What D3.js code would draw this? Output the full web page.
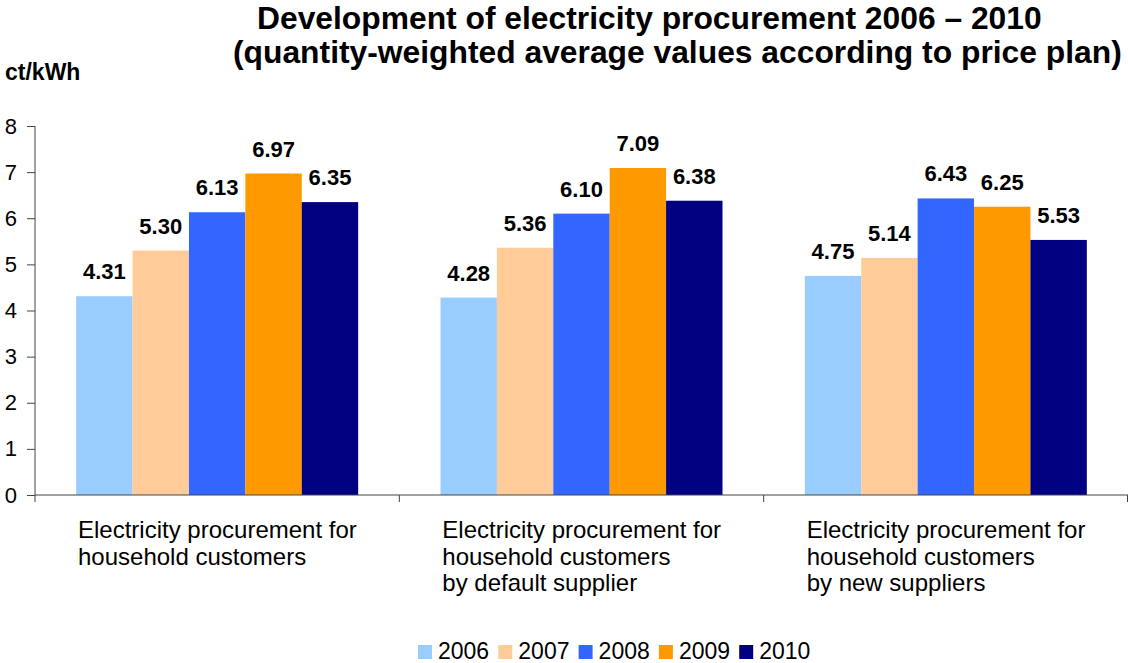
<!DOCTYPE html>
<html>
<head>
<meta charset="utf-8">
<script src="https://cdn.jsdelivr.net/npm/d3@7"></script>
<style>
  html, body { margin: 0; padding: 0; background: #fff; }
  svg { display: block; font-family: "Liberation Sans", Arial, sans-serif; }
</style>
</head>
<body>
<svg id="chart" width="1128" height="663"></svg>
<script>
// Categories (multi-line labels) and yearly series in ct/kWh
const categories = [
  ["Electricity procurement for", "household customers"],
  ["Electricity procurement for", "household customers", "by default supplier"],
  ["Electricity procurement for", "household customers", "by new suppliers"]
];
const years = ["2006", "2007", "2008", "2009", "2010"];
const values2006 = [4.31, 4.28, 4.75];
const values2007 = [5.30, 5.36, 5.14];
const values2008 = [6.13, 6.10, 6.43];
const values2009 = [6.97, 7.09, 6.25];
const values2010 = [6.35, 6.38, 5.53];
const yTicks = [0, 1, 2, 3, 4, 5, 6, 7, 8];
const colors = ["#99CCFF", "#FFCC99", "#3366FF", "#FF9900", "#000080"];

const seriesValues = [values2006, values2007, values2008, values2009, values2010];
const catIds = categories.map((c, i) => i);

const svg = d3.select("#chart");

const plotLeft = 35, plotRight = 1128, plotTop = 126, plotBottom = 495;

const x0 = d3.scaleBand().domain(catIds).range([plotLeft, plotRight]).padding(0);
const x1 = d3.scaleBand().domain(years).range([0, x0.bandwidth()])
  .paddingInner(0).paddingOuter(0.73);
const y = d3.scaleLinear().domain([0, 8]).range([plotBottom, plotTop]);
const color = d3.scaleOrdinal().domain(years).range(colors);

// Title, two lines
const title = svg.append("g").attr("font-weight", "bold").attr("font-size", 31.8)
  .attr("fill", "#000");
title.append("text").attr("x", 257).attr("y", 29)
  .text("Development of electricity procurement 2006 \u2013 2010");
title.append("text").attr("x", 233).attr("y", 63)
  .text("(quantity-weighted average values according to price plan)");

// Unit label
svg.append("text").attr("x", 5).attr("y", 80)
  .attr("font-weight", "bold").attr("font-size", 23).text("ct/kWh");

// Bars
const groups = svg.append("g").selectAll("g").data(catIds).join("g")
  .attr("transform", d => `translate(${x0(d)},0)`);

groups.selectAll("rect")
  .data(ci => years.map((yr, si) => ({ yr, v: seriesValues[si][ci] })))
  .join("rect")
  .attr("x", d => x1(d.yr))
  .attr("y", d => y(d.v))
  .attr("width", x1.bandwidth())
  .attr("height", d => y(0) - y(d.v))
  .attr("fill", d => color(d.yr));

// Value labels
groups.selectAll("text.val")
  .data(ci => years.map((yr, si) => ({ yr, v: seriesValues[si][ci] })))
  .join("text")
  .attr("class", "val")
  .attr("x", d => x1(d.yr) + x1.bandwidth() / 2)
  .attr("y", d => y(d.v) - 17)
  .attr("text-anchor", "middle")
  .attr("font-weight", "bold")
  .attr("font-size", 22)
  .text(d => d.v.toFixed(2));

// Y axis
const yAxis = d3.axisLeft(y).tickValues(yTicks).tickSize(8).tickPadding(10)
  .tickFormat(d3.format("d"));
const yg = svg.append("g").attr("transform", `translate(${plotLeft},0)`).call(yAxis);
yg.select(".domain").attr("stroke", "#444").attr("d", `M0,${plotTop}V${plotBottom}`);
yg.selectAll(".tick line").attr("stroke", "#444");
yg.selectAll(".tick text").attr("font-size", 22).attr("fill", "#000")
  .attr("font-family", "Liberation Sans, Arial, sans-serif");

// X axis with boundary ticks between groups
const xg = svg.append("g");
xg.append("line").attr("x1", plotLeft).attr("x2", plotRight)
  .attr("y1", plotBottom).attr("y2", plotBottom).attr("stroke", "#444");
const bounds = catIds.map(d => x0(d)).concat([plotRight - 0.5]);
xg.selectAll("line.b").data(bounds).join("line").attr("class", "b")
  .attr("x1", d => d).attr("x2", d => d)
  .attr("y1", plotBottom).attr("y2", plotBottom + 7).attr("stroke", "#444");

// Category labels
const catLabels = svg.append("g").selectAll("text").data(catIds).join("text")
  .attr("x", d => x0(d) + 43)
  .attr("y", 538)
  .attr("font-size", 24)
  .attr("fill", "#000");
catLabels.selectAll("tspan").data(d => categories[d]).join("tspan")
  .attr("x", function () { return d3.select(this.parentNode).attr("x"); })
  .attr("dy", (d, i) => i === 0 ? 0 : 26.5)
  .text(d => d);

// Legend
const legend = svg.append("g").selectAll("g").data(years).join("g")
  .attr("transform", (d, i) => `translate(${418 + i * 80.3},645)`);
legend.append("rect").attr("width", 14).attr("height", 14).attr("fill", d => color(d));
legend.append("text").attr("x", 20).attr("y", 14).attr("font-size", 23).text(d => d);
</script>
</body>
</html>
